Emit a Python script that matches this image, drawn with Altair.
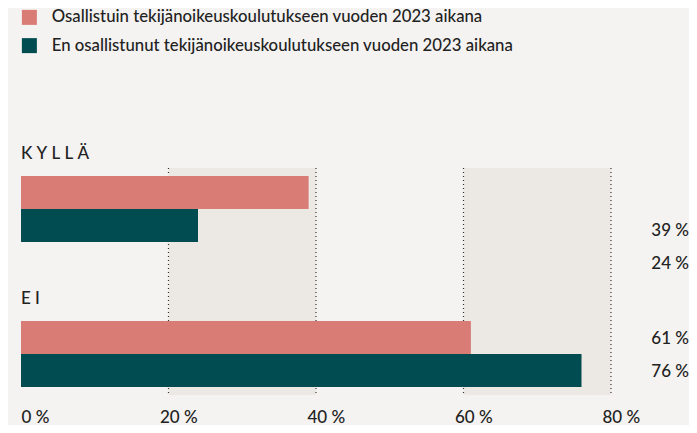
import altair as alt
import pandas as pd

categories = ["KYLLÄ", "EI"]
series = [
    "Osallistuin tekijänoikeuskoulutukseen vuoden 2023 aikana",
    "En osallistunut tekijänoikeuskoulutukseen vuoden 2023 aikana",
]
osallistui = [39, 61]
ei_osallistunut = [24, 76]
tick_values = [0, 20, 40, 60, 80]
band_starts = [20, 60]
band_ends = [40, 80]

PINK = "#d87c75"
TEAL = "#004c50"
BG = "#f4f3f1"
BAND = "#ece9e4"
INK = "#222222"
FONT = "Lato"
WEIGHT = 500

rows = []
for i, c in enumerate(categories):
    rows.append({"cat": c, "series": series[0], "value": osallistui[i]})
    rows.append({"cat": c, "series": series[1], "value": ei_osallistunut[i]})
df = pd.DataFrame(rows)
df["label"] = df["value"].astype(str) + " %"

cat_df = pd.DataFrame({"cat": categories})
bands_df = pd.DataFrame({"start": band_starts, "end": band_ends})
ticks_df = pd.DataFrame({"t": tick_values[1:]})

xscale = alt.Scale(domain=[0, 80], range=[0, 590], nice=False)
yscale = alt.Scale(domain=categories, range=[168, 379], paddingInner=79 / 145, paddingOuter=0)
yoff_scale = alt.Scale(domain=series, paddingInner=0, paddingOuter=0)

xaxis = alt.Axis(
    values=tick_values,
    labelExpr="datum.value + ' %'",
    domain=False,
    ticks=False,
    grid=False,
    title=None,
    labelFont=FONT,
    labelFontSize=17,
    labelFontWeight=WEIGHT,
    labelColor=INK,
    labelAlign="left",
    labelOffset={"condition": {"test": "datum.value === 0", "value": 0}, "value": -9},
    labelPadding=14,
    maxExtent=30,
    minExtent=30,
)

bands = alt.Chart(bands_df).mark_rect(color=BAND).encode(
    x=alt.X("start:Q", scale=xscale, axis=xaxis),
    x2="end:Q",
    y=alt.value(160),
    y2=alt.value(387),
)

rules = alt.Chart(ticks_df).mark_rule(color="#333333", strokeDash=[1, 3], strokeWidth=1.2).encode(
    x=alt.X("t:Q", scale=xscale, axis=xaxis),
    y=alt.value(160),
    y2=alt.value(387),
)

bars = alt.Chart(df).mark_bar().encode(
    x=alt.X("value:Q", scale=xscale, axis=xaxis),
    y=alt.Y("cat:N", scale=yscale, axis=None),
    yOffset=alt.YOffset("series:N", scale=yoff_scale),
    color=alt.Color(
        "series:N",
        scale=alt.Scale(domain=series, range=[PINK, TEAL]),
        legend=alt.Legend(
            orient="none",
            legendX=0,
            legendY=1,
            title=None,
            symbolType="square",
            symbolSize=225,
            symbolStrokeWidth=0,
            labelFont=FONT,
            labelFontSize=16.75,
            labelFontWeight=WEIGHT,
            labelColor=INK,
            labelOffset=14,
            rowPadding=10.25,
            padding=0,
            labelLimit=0,
        ),
    ),
)

cat_labels = alt.Chart(cat_df).transform_calculate(
    spaced="join(split(datum.cat, ''), '\u2005')"
).mark_text(
    align="left", baseline="alphabetic", dy=-17, fontSize=17, font=FONT, fontWeight=WEIGHT, color=INK
).encode(
    x=alt.value(0),
    y=alt.Y("cat:N", scale=yscale, axis=None, bandPosition=0),
    text="spaced:N",
)

def value_labels(cat, dy):
    return alt.Chart(df).transform_filter(
        alt.datum.cat == cat
    ).mark_text(
        align="right", baseline="middle", dy=dy, fontSize=17, font=FONT, fontWeight=WEIGHT, color=INK
    ).encode(
        x=alt.value(668),
        y=alt.Y("cat:N", scale=yscale, axis=None),
        yOffset=alt.YOffset("series:N", scale=yoff_scale),
        text="label:N",
    )

chart = alt.layer(
    bands, rules, bars, cat_labels, value_labels("KYLLÄ", 38.5), value_labels("EI", 1.5)
).properties(
    width=668,
    height=387,
    padding={"left": 13, "top": 0, "right": 0, "bottom": 0},
    background=BG,
).configure_view(stroke=None)

chart.save("out.html", embed_options={"renderer": "svg", "actions": False})
